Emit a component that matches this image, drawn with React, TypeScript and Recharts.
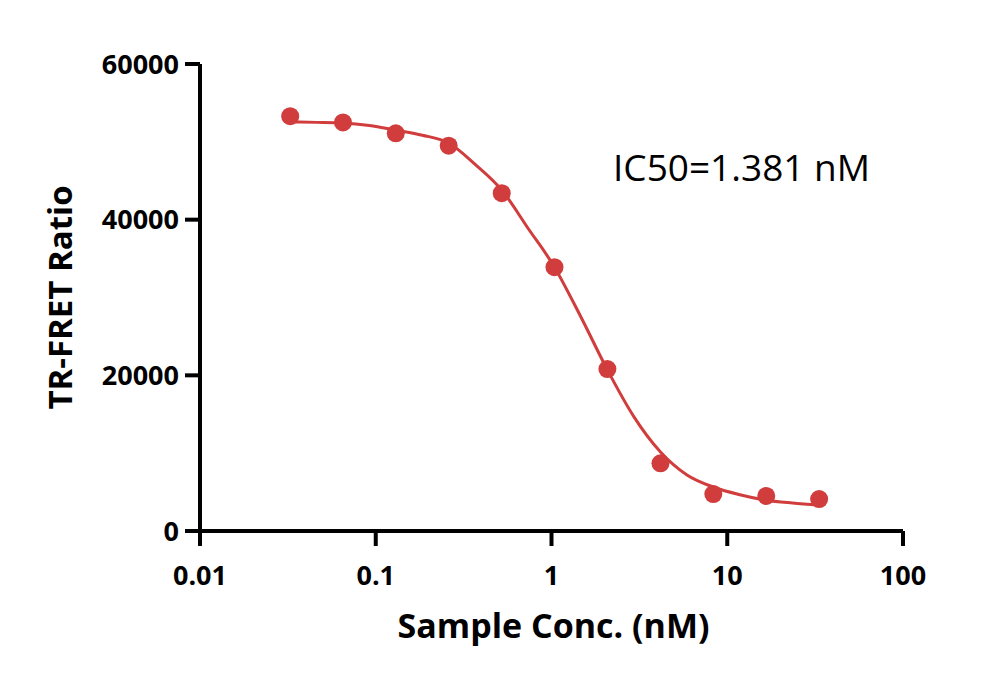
import React from "react"
import { ComposedChart, Line, Scatter, XAxis, YAxis, Customized } from "recharts"

// measured points (nM vs TR-FRET ratio)
const concentrations = [0.0326, 0.0651, 0.130, 0.260, 0.521, 1.04, 2.08, 4.17, 8.33, 16.67, 33.33]
const ratios = [53300, 52500, 51100, 49500, 43400, 33900, 20800, 8700, 4750, 4500, 4100]

// fitted curve
const curveConc = [0.0326, 0.046, 0.0651, 0.092, 0.130, 0.184, 0.260, 0.368, 0.521, 0.735, 1.04, 1.47, 2.08, 2.94, 4.17, 5.9, 8.33, 11.8, 16.67, 23.5, 33.33]
const curveRatio = [52550, 52500, 52420, 52100, 51500, 50850, 49850, 47100, 43800, 38900, 33900, 27500, 20700, 14700, 10150, 7200, 5650, 4650, 3950, 3600, 3350]

const xTicks = [0.01, 0.1, 1, 10, 100]
const yTicks = [0, 20000, 40000, 60000]

const points = concentrations.map((x, i) => ({ x, y: ratios[i] }))
const curve = curveConc.map((x, i) => ({ x, y: curveRatio[i] }))

const RED = "#d13c3c"
const FONT = "'Open Sans', sans-serif"

const XTitle = (props: any) => {
  const { viewBox } = props
  return (
    <text
      x={viewBox.x + viewBox.width / 2 + 2}
      y={viewBox.y + 107}
      textAnchor="middle"
      fontFamily={FONT}
      fontWeight={700}
      fontSize={34}
      fill="#000"
    >
      Sample Conc. (nM)
    </text>
  )
}

const YTitle = (props: any) => {
  const { viewBox } = props
  const x = viewBox.x - 18
  const y = viewBox.y + viewBox.height / 2
  return (
    <text
      x={x}
      y={y}
      transform={`rotate(-90, ${x}, ${y})`}
      textAnchor="middle"
      fontFamily={FONT}
      fontWeight={700}
      fontSize={33}
      fill="#000"
    >
      TR-FRET Ratio
    </text>
  )
}

const Dot = (props: any) => <circle cx={props.cx} cy={props.cy} r={9} fill={RED} />

export default function App() {
  const tickStyle = { fontSize: 27, fontWeight: 700, fill: "#000", fontFamily: FONT }
  return (
    <div style={{ position: "absolute", left: 0, top: 0, background: "#fff" }}>
      <ComposedChart width={1000} height={681} margin={{ top: 64, right: 97, bottom: 90, left: 90 }}>
        <XAxis
          dataKey="x"
          type="number"
          scale="log"
          domain={[0.01, 100]}
          ticks={xTicks}
          allowDataOverflow
          height={60}
          axisLine={{ stroke: "#000", strokeWidth: 4 }}
          tickLine={{ stroke: "#000", strokeWidth: 4 }}
          tickSize={15}
          tickMargin={20}
          tick={tickStyle}
          label={<XTitle />}
        />
        <YAxis
          dataKey="y"
          type="number"
          domain={[0, 60000]}
          ticks={yTicks}
          width={110}
          axisLine={{ stroke: "#000", strokeWidth: 4 }}
          tickLine={{ stroke: "#000", strokeWidth: 4 }}
          tickSize={15}
          tickMargin={6}
          tick={tickStyle}
          label={<YTitle />}
        />
        <Line
          data={curve}
          dataKey="y"
          type="monotone"
          stroke={RED}
          strokeWidth={3}
          dot={false}
          activeDot={false}
          isAnimationActive={false}
        />
        <Scatter data={points} dataKey="y" fill={RED} shape={<Dot />} isAnimationActive={false} />
        <Customized
          component={() => (
            <text x={613} y={181} fontFamily={FONT} fontSize={37} fill="#000">
              IC50=1.381 nM
            </text>
          )}
        />
      </ComposedChart>
    </div>
  )
}
